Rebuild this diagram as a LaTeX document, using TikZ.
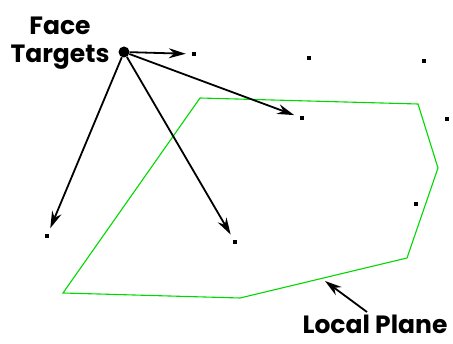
\documentclass[tikz,border=0pt]{standalone}
\usepackage{fontspec}
\setmainfont{Poppins}
\usetikzlibrary{arrows.meta}

\tikzset{
  tgt/.style={fill=black, inner sep=0pt, minimum size=4pt},
  hub/.style={circle, fill=black, inner sep=0pt, minimum size=11pt},
  aim/.style={-{Stealth[length=17pt,width=10pt]}, line width=1.8pt, shorten >=6pt},
  lbl/.style={font=\bfseries\fontsize{25}{28}\selectfont, align=center, inner sep=0pt}
}

\begin{document}
\begin{tikzpicture}[x=1pt, y=-1pt]
    \useasboundingbox (0,0) rectangle (453,344);
    % local plane outline
    \draw[green!85!black, line width=1.1pt] (63,293) -- (240,298) -- (407,258)
        -- (438,168) -- (418,104) -- (200,98) -- cycle;
    % targets
    \node[hub] (h) at (124,52) {};
    \node[tgt] (t1) at (194,54) {};
    \node[tgt] (t2) at (309,58) {};
    \node[tgt] (t3) at (424,61) {};
    \node[tgt] (t4) at (302,118) {};
    \node[tgt] (t5) at (447,119) {};
    \node[tgt] (t6) at (416,204) {};
    \node[tgt] (t7) at (235,242) {};
    \node[tgt] (t8) at (47,236) {};
    \draw[aim] (h) -- (t1);
    \draw[aim] (h) -- (t4);
    \draw[aim] (h) -- (t7);
    \draw[aim] (h) -- (t8);
    % labels
    \node[lbl, anchor=north] (ft) at (60,17) {Face\\Targets};
    \node[lbl, anchor=base] (lp) at (375,334) {Local Plane};
    \coordinate (edge) at (325,281);
    \coordinate (tail) at (367,312);
    \draw[aim, shorten >=0pt] (tail) -- (edge);
\end{tikzpicture}
\end{document}
